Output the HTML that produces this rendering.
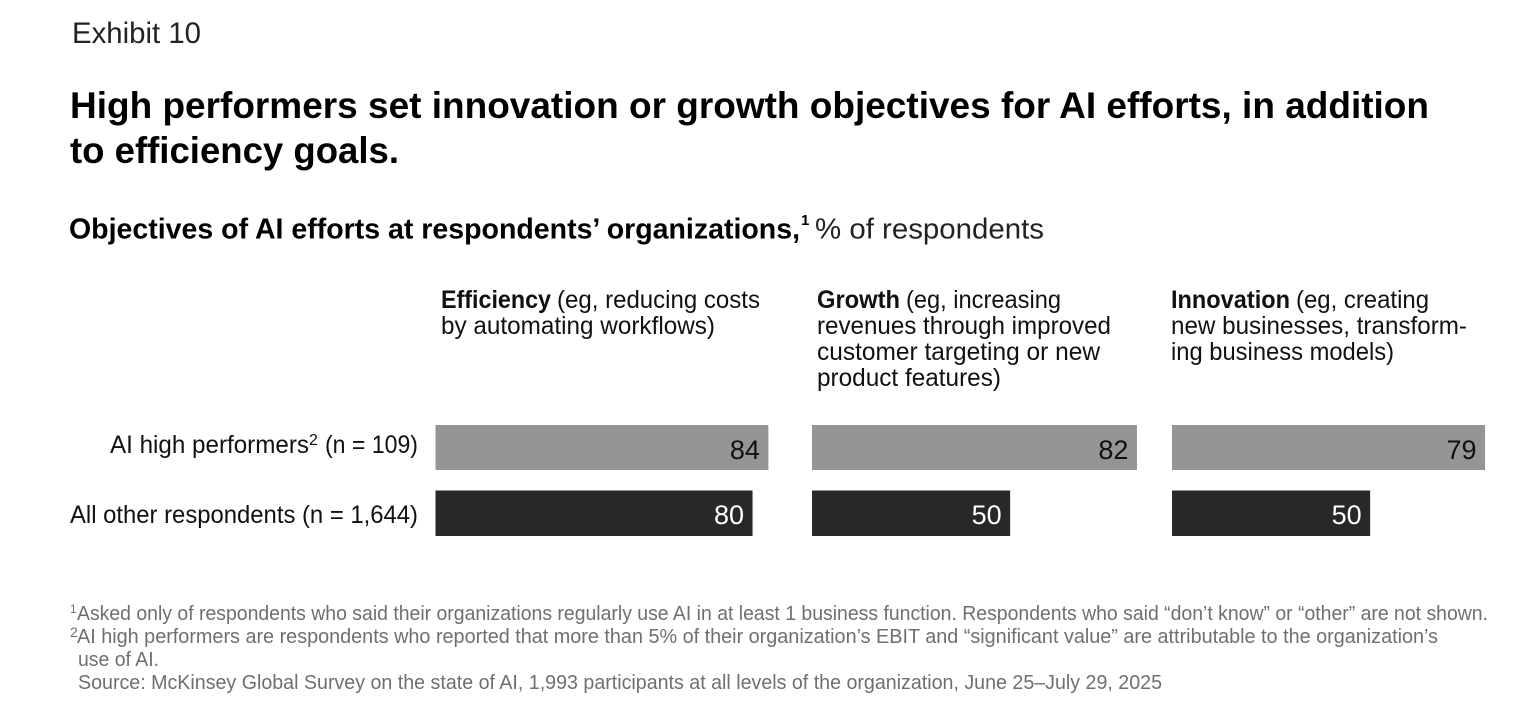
<!DOCTYPE html>
<html lang="en">
<head>
<meta charset="utf-8">
<title>Exhibit 10</title>
<style>
html,body{margin:0;padding:0;background:#fff;}
body{width:1532px;height:720px;overflow:hidden;}
svg{display:block;font-family:"Liberation Sans",sans-serif;}
.b{font-weight:700;}
.foot{font-size:20.5px;fill:#6f6f6f;}
.head{font-size:25px;fill:#111;}
.row{font-size:25px;fill:#111;}
</style>
</head>
<body>
<svg id="chart" width="1532" height="720" viewBox="0 0 1532 720" xmlns="http://www.w3.org/2000/svg">
  <text x="72" y="43" font-size="30" fill="#222" textLength="129" lengthAdjust="spacingAndGlyphs">Exhibit 10</text>
  <text class="b" x="70" y="118" font-size="37.5" fill="#000" textLength="1359" lengthAdjust="spacingAndGlyphs">High performers set innovation or growth objectives for AI efforts, in addition</text>
  <text class="b" x="70" y="163" font-size="37.5" fill="#000" textLength="329" lengthAdjust="spacingAndGlyphs">to efficiency goals.</text>
  <text class="b" x="69" y="238.5" font-size="29" fill="#000" textLength="731" lengthAdjust="spacingAndGlyphs">Objectives of AI efforts at respondents’ organizations,</text>
  <text class="b" x="801" y="225" font-size="15" fill="#000">1</text>
  <text x="815" y="238.5" font-size="29" fill="#222" textLength="229" lengthAdjust="spacingAndGlyphs">% of respondents</text>

  <g class="head">
    <text class="b" x="441" y="308" textLength="110" lengthAdjust="spacingAndGlyphs">Efficiency</text>
    <text x="557" y="308" textLength="203" lengthAdjust="spacingAndGlyphs">(eg, reducing costs</text>
    <text x="441" y="334" textLength="274" lengthAdjust="spacingAndGlyphs">by automating workflows)</text>
  </g>
  <g class="head">
    <text class="b" x="817" y="308" textLength="83" lengthAdjust="spacingAndGlyphs">Growth</text>
    <text x="906" y="308" textLength="155" lengthAdjust="spacingAndGlyphs">(eg, increasing</text>
    <text x="817" y="334" textLength="294" lengthAdjust="spacingAndGlyphs">revenues through improved</text>
    <text x="817" y="360" textLength="283" lengthAdjust="spacingAndGlyphs">customer targeting or new</text>
    <text x="817" y="386" textLength="184" lengthAdjust="spacingAndGlyphs">product features)</text>
  </g>
  <g class="head">
    <text class="b" x="1171" y="308" textLength="119" lengthAdjust="spacingAndGlyphs">Innovation</text>
    <text x="1296" y="308" textLength="133" lengthAdjust="spacingAndGlyphs">(eg, creating</text>
    <text x="1171" y="334" textLength="296" lengthAdjust="spacingAndGlyphs">new businesses, transform-</text>
    <text x="1171" y="360" textLength="223" lengthAdjust="spacingAndGlyphs">ing business models)</text>
  </g>

  <g class="row">
    <text x="110" y="453" textLength="199" lengthAdjust="spacingAndGlyphs">AI high performers</text>
    <text x="309" y="445" font-size="16">2</text>
    <text x="325" y="453" textLength="93" lengthAdjust="spacingAndGlyphs">(n = 109)</text>
  </g>
  <text class="row" x="70" y="523" textLength="348" lengthAdjust="spacingAndGlyphs">All other respondents (n = 1,644)</text>

  <g id="bars"></g>

  <g class="foot">
    <text x="70" y="613" font-size="12">1</text>
    <text x="77" y="620" textLength="1411" lengthAdjust="spacingAndGlyphs">Asked only of respondents who said their organizations regularly use AI in at least 1 business function. Respondents who said “don’t know” or “other” are not shown.</text>
    <text x="70" y="637" font-size="14">2</text>
    <text x="77" y="643" textLength="1361" lengthAdjust="spacingAndGlyphs">AI high performers are respondents who reported that more than 5% of their organization’s EBIT and “significant value” are attributable to the organization’s</text>
    <text x="78" y="666" textLength="81" lengthAdjust="spacingAndGlyphs">use of AI.</text>
    <text x="78" y="689" textLength="1084" lengthAdjust="spacingAndGlyphs">Source: McKinsey Global Survey on the state of AI, 1,993 participants at all levels of the organization, June 25–July 29, 2025</text>
  </g>
</svg>
<script>
const categories = ['efficiency', 'growth', 'innovation'];
const highPerformers = [84, 82, 79];
const allOthers = [80, 50, 50];

const panelStart = [435.5, 812, 1172];
const unitWidth = 3.963;
const svgNS = 'http://www.w3.org/2000/svg';
const barsLayer = document.getElementById('bars');

function xScale(value) {
  return value * unitWidth;
}

function drawBar(panel, value, top, height, fill, labelFill, baseline, seriesName) {
  const width = xScale(value);
  const rect = document.createElementNS(svgNS, 'rect');
  
  
  rect.setAttribute('x', panelStart[panel]);
  rect.setAttribute('y', top);
  rect.setAttribute('width', width);
  rect.setAttribute('height', height);
  rect.setAttribute('fill', fill);
  barsLayer.appendChild(rect);

  const label = document.createElementNS(svgNS, 'text');
  
  
  label.setAttribute('x', panelStart[panel] + width - 8.5);
  label.setAttribute('y', baseline);
  label.setAttribute('text-anchor', 'end');
  label.setAttribute('font-size', '27');
  label.setAttribute('fill', labelFill);
  label.textContent = value;
  barsLayer.appendChild(label);
}

categories.forEach(function (name, i) {
  drawBar(i, highPerformers[i], 425, 45, '#959595', '#111111', 459, 'high-performers');
  drawBar(i, allOthers[i], 490.5, 45.5, '#282828', '#ffffff', 524, 'all-others');
});
</script>
</body>
</html>
